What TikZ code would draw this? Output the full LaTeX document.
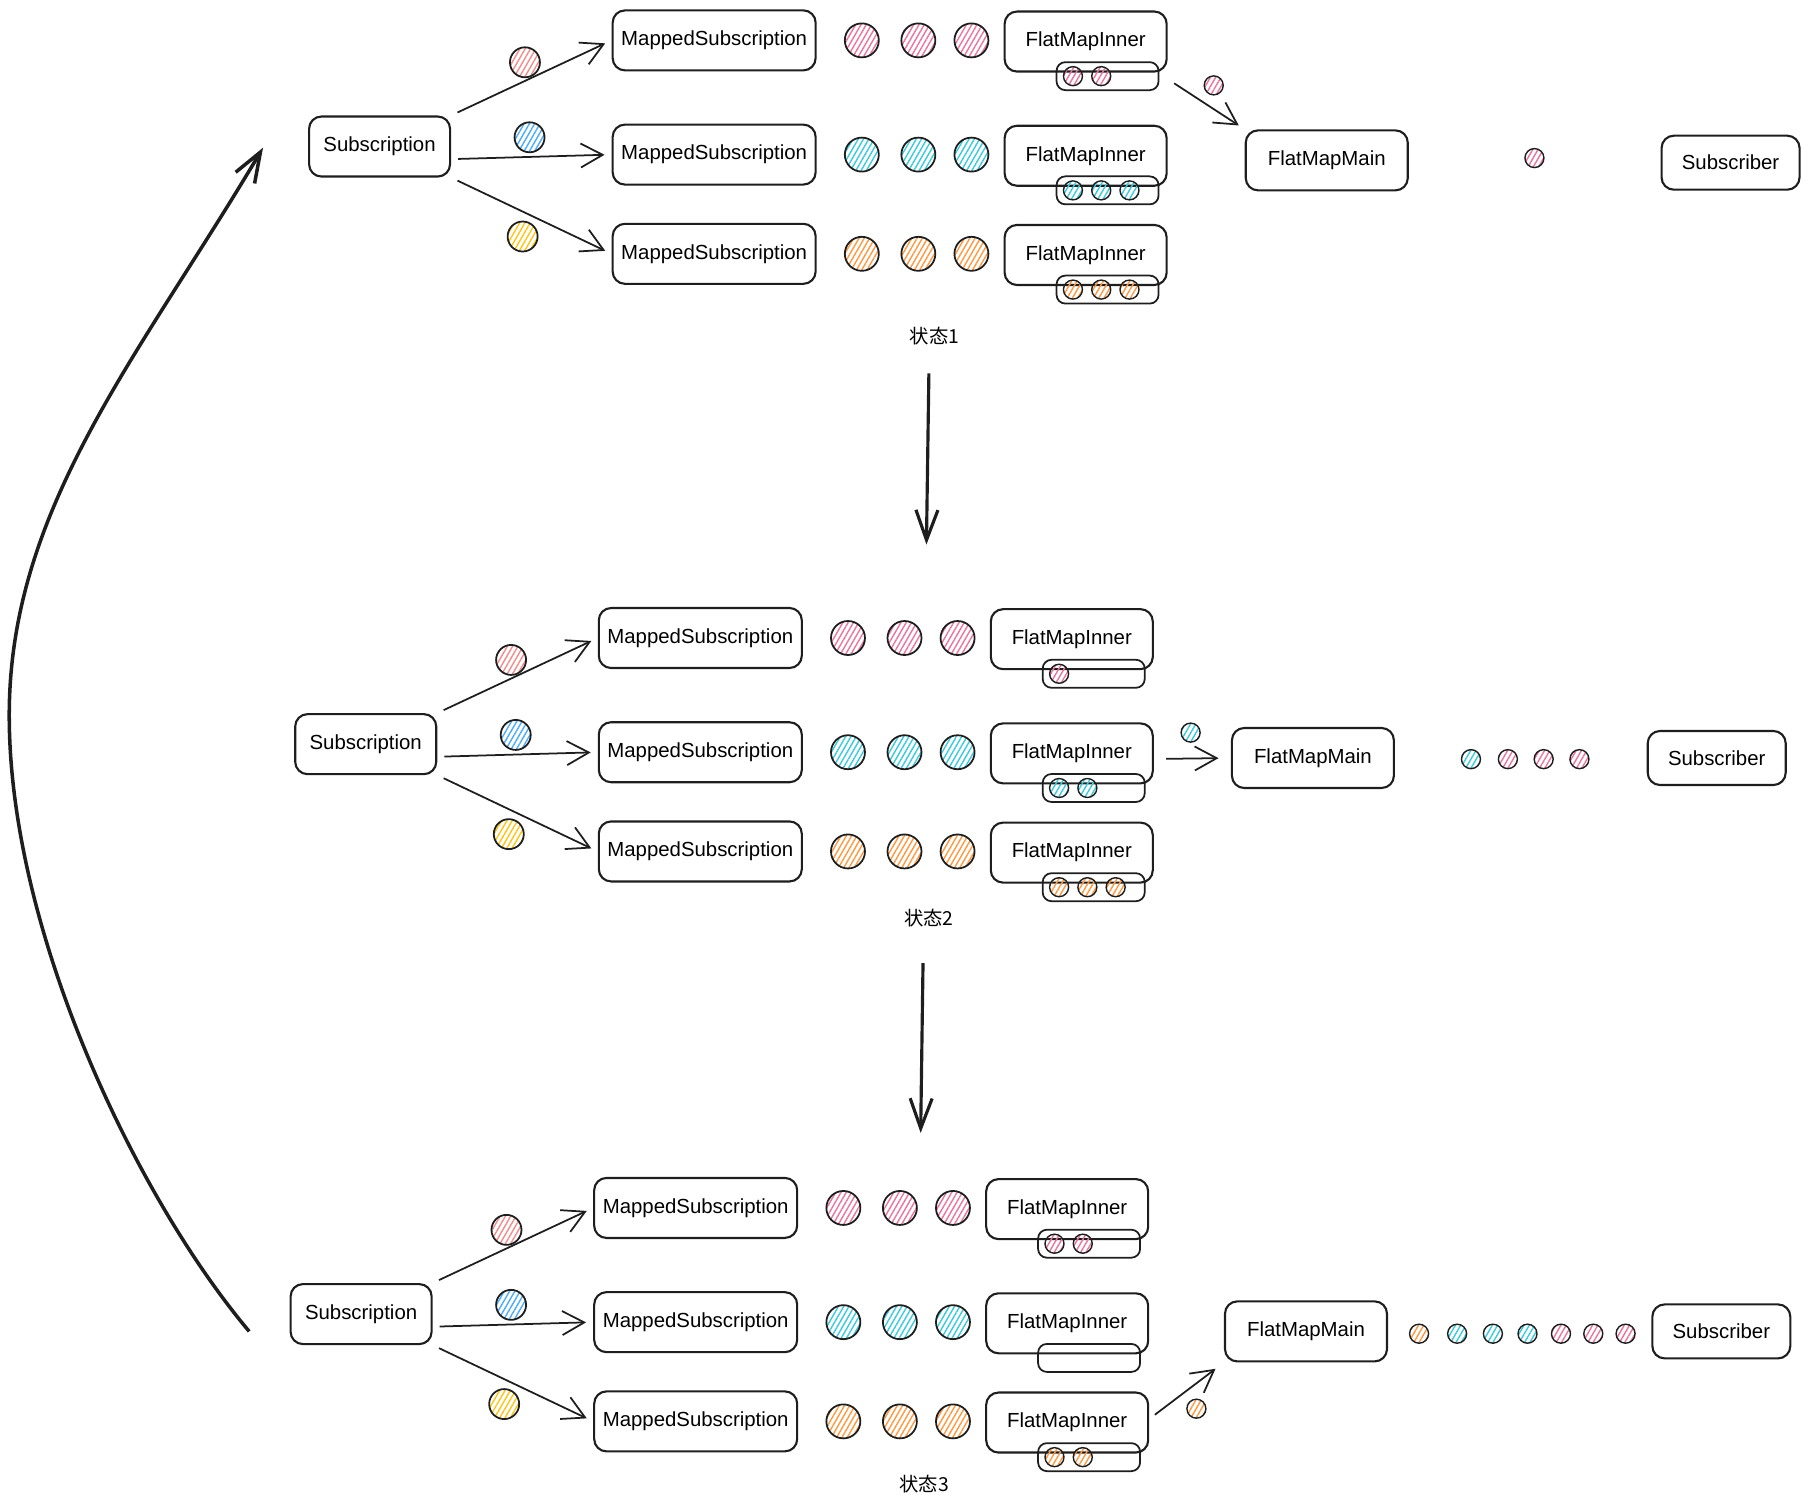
\documentclass[tikz,border=0pt]{standalone}
\usepackage{fontspec}
\setmainfont{Liberation Sans}
\newfontfamily\cjk{Noto Sans CJK SC}
\usetikzlibrary{arrows.meta,patterns.meta}
\definecolor{hpink}{HTML}{E8759C}
\definecolor{hred}{HTML}{F08C8C}
\definecolor{hblue}{HTML}{4DABF7}
\definecolor{hcyan}{HTML}{3BC9DB}
\definecolor{horange}{HTML}{FD9843}
\definecolor{hyellow}{HTML}{FCC419}
\definecolor{ink}{HTML}{1E1E1E}
\tikzset{
  box/.style={draw=ink, line width=0.6pt, rounded corners=3.5pt, minimum height=6mm, inner sep=0pt, font=\fontsize{5.8}{7}\selectfont},
  msbox/.style={box, minimum width=20.3mm},
  subbox/.style={box, minimum width=14.1mm},
  fmbox/.style={box, minimum width=16.2mm},
  srbox/.style={box, minimum width=13.8mm, minimum height=5.4mm},
  qbox/.style={draw=ink, line width=0.5pt, rounded corners=2.5pt, minimum width=10.2mm, minimum height=2.8mm, inner sep=0pt},
  ball/.style={circle, draw=ink, line width=0.5pt, inner sep=0pt, minimum size=3.4mm, pattern={Lines[angle=60,distance=1.3pt,line width=0.4pt]}, pattern color=#1},
  pill/.style={ball=#1, minimum size=3mm},
  bead/.style={ball=#1, minimum size=1.9mm, line width=0.4pt},
  flow/.style={draw=ink, line width=0.5pt, -{Straight Barb[length=2.2mm,width=2.4mm]}, shorten <=2pt, shorten >=2pt},
  jump/.style={draw=ink, line width=0.9pt, -{Straight Barb[length=3mm,width=2.2mm]}},
  tag/.style={font=\cjk\fontsize{5.5}{6}\selectfont, inner sep=1pt}
}

\begin{document}
\begin{tikzpicture}[x=0.11537mm, y=-0.11537mm]
\useasboundingbox (0,0) rectangle (1568,1306);
\foreach \st/\dx/\dy/\na/\nb/\nc in {1/0/0/2/3/3, 2/-12/518/1/2/3, 3/-16/1012/2/0/2}{
  \begin{scope}[shift={(\dx,\dy)}]
    \node[subbox] (sub\st) at (329,127) {Subscription};
    \foreach \rw/\ry/\cnt/\hc/\ac/\ax/\ay/\from in {a/35/\na/hpink/hred/126/-73/north east, b/134/\nb/hcyan/hblue/130/-8/-10, c/220/\nc/horange/hyellow/124/78/south east}{
      \node[msbox] (ms\st\rw) at (619,\ry) {MappedSubscription};
      \draw[flow] (sub\st.\from) -- (ms\st\rw.west);
      \node[pill=\ac] (p\st\rw) at ({329+\ax},{127+\ay}) {};
      \foreach \bx [count=\k] in {747,796,842}
        \node[ball=\hc] (d\st\rw\k) at (\bx,\ry) {};
      \node[fmbox] (fmi\st\rw) at (941,{\ry+1}) {FlatMapInner};
      \node[qbox] (q\st\rw) at (960,{\ry+31}) {};
      \foreach \k in {1,2,3}{
        \ifnum\k>\cnt\else
          \node[bead=\hc] (q\st\rw\k) at ({930+24.5*(\k-1)},{\ry+31}) {};
        \fi
      }
    }
  \end{scope}
}

\node[fmbox] (fmm1) at (1150,139) {FlatMapMain};
\node[srbox] (sbr1) at (1500,141) {Subscriber};
\draw[flow, shorten <=1pt] ([shift={(1pt,-2.5pt)}]fmi1a.south east) -- (fmm1.north west);
\node[bead=hpink] (t1) at (1052,74) {};
\node[bead=hpink] (e1) at (1330,137) {};

\node[fmbox] (fmm2) at (1138,657) {FlatMapMain};
\node[srbox] (sbr2) at (1488,657) {Subscriber};
\draw[flow, shorten <=3.5pt, shorten >=3.5pt] ([yshift=-1.6pt]fmi2b.east) -- (fmm2.west);
\node[bead=hcyan] (t2) at (1032,635) {};
\foreach \x/\c [count=\k] in {1275/hcyan,1307/hpink,1338/hpink,1369/hpink}
  \node[bead=\c] (e2\k) at (\x,658) {};

\node[fmbox] (fmm3) at (1132,1154) {FlatMapMain};
\node[srbox] (sbr3) at (1492,1154) {Subscriber};
\draw[flow, shorten >=3pt] ([yshift=1pt]fmi3c.east) -- (fmm3.south west);
\node[bead=horange] (t3) at (1037,1221) {};
\foreach \x/\c [count=\k] in {1230/horange,1263/hcyan,1294/hcyan,1324/hcyan,1353/hpink,1381/hpink,1409/hpink}
  \node[bead=\c] (e3\k) at (\x,1156) {};

\node[tag] (lbl1) at (810,291) {状态1};
\node[tag] (lbl2) at (805,796) {状态2};
\node[tag] (lbl3) at (801,1286) {状态3};
\coordinate (v1) at (803,472);
\coordinate (v2) at (798,982);
\draw[jump, shorten <=7pt] ([xshift=-1.5pt]lbl1.south) -- (v1);
\draw[jump, shorten <=9pt] ([xshift=-1.5pt]lbl2.south) -- (v2);

\coordinate (r0) at (216,1154);
\coordinate (r1) at (228,128);
\draw[jump, line width=1pt] (r0) .. controls (120,1040) and (8,810) .. (8,620) .. controls (8,440) and (120,310) .. (r1);
\end{tikzpicture}
\end{document}
